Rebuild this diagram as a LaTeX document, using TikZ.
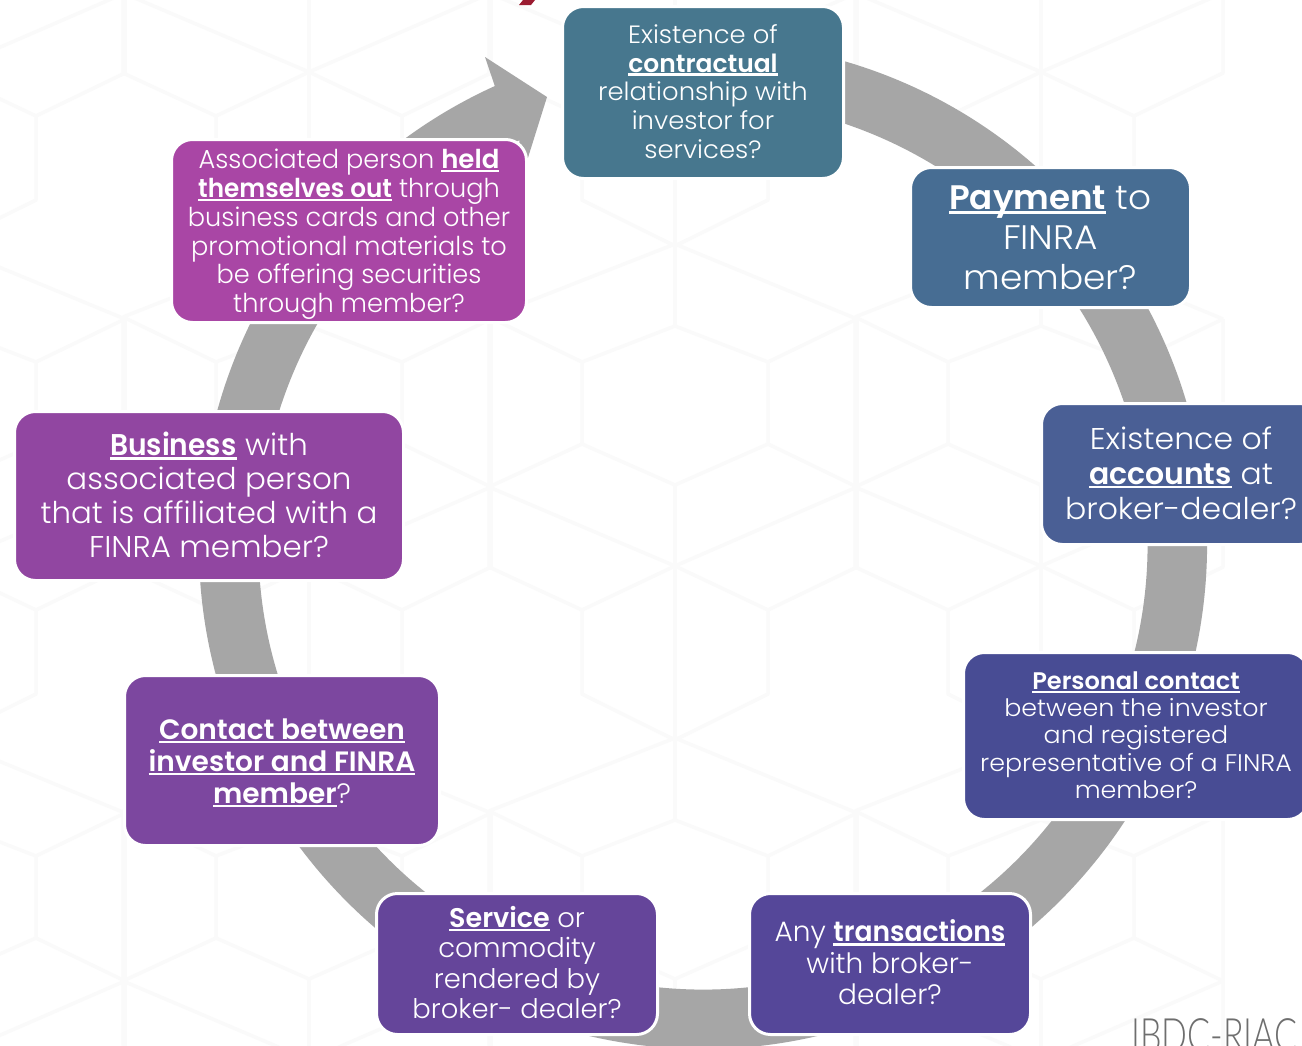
\documentclass[tikz,border=0pt]{standalone}
\usepackage{fontspec}
\usepackage{graphicx}
\setmainfont{Poppins Light}[BoldFont={Poppins SemiBold}]
\newfontfamily\logofont{Lato Light}
\usetikzlibrary{calc}
\definecolor{ringgray}{HTML}{A6A6A6}
\definecolor{hexline}{HTML}{FAFAFA}
\definecolor{titlered}{HTML}{9B1C31}
\definecolor{logogray}{HTML}{6E6E6E}
\definecolor{cA}{HTML}{47778E}
\definecolor{cB}{HTML}{476D93}
\definecolor{cC}{HTML}{4A5F95}
\definecolor{cD}{HTML}{484C94}
\definecolor{cE}{HTML}{554799}
\definecolor{cF}{HTML}{65459A}
\definecolor{cG}{HTML}{7C479F}
\definecolor{cH}{HTML}{9146A1}
\definecolor{cI}{HTML}{A946A5}
\newcommand\ub[2][1]{\setbox0\hbox{\scalebox{#1}[1]{\bfseries #2}}\leavevmode\rlap{\rule[-0.14em]{\wd0}{0.085em}}\box0\relax}
\newcommand\lns[3]{\raisebox{-#2pt}[\height][\depth]{\scalebox{#1}[1]{\begin{tabular}{@{}c@{}}#3\end{tabular}}}}
\tikzset{
  card/.style={draw=white,line width=3pt,rounded corners=21pt,inner sep=0pt,outer sep=0pt,text=white,align=center},
  hexstroke/.style={draw=hexline,line width=3.5pt,line join=round},
}
\newcommand\fs[2]{\fontsize{#1}{#2}\selectfont}
\begin{document}
\begin{tikzpicture}[x=1pt,y=-1pt]
\useasboundingbox (0,0) rectangle (1302,1045);
\clip (0,0) rectangle (1302,1045);
\fill[white] (0,0) rectangle (1302,1045);
% faint hexagon background
\foreach \i in {-2,-1,0,1} \foreach \j in {-1,0,1}{
 \begin{scope}[shift={(\i*366,\j*494)}]
  \draw[hexstroke] (489,317)--(675,244)--(857,319);
  \draw[hexstroke] (489,317)--(582,362)--(675,326)--(768,362)--(857,319);
  \draw[hexstroke] (582,362)--(582,444)--(675,485)--(768,444)--(768,362);
  \draw[hexstroke] (582,444)--(489,487)--(489,317);
  \draw[hexstroke] (768,444)--(857,487)--(857,319);
  \draw[hexstroke] (489,487)--(675,566)--(857,487);
  \draw[hexstroke] (675,485)--(675,566);
  \draw[hexstroke] (489,487)--(489,567)--(582,610)--(675,566)--(768,610)--(857,567)--(857,487);
  \draw[hexstroke] (582,610)--(582,694)--(675,740)--(768,694)--(768,610);
  \draw[hexstroke] (675,566)--(675,740);
  \draw[hexstroke] (675,244)--(675,326);
 \end{scope}}
% red fragment of the cut-off title
\fill[titlered] (523,0)--(535,0)--(531,5)--(519,5)--cycle;
% ring arrow
\coordinate (ringc) at (703,545);
\coordinate (headback) at (485,57);
\coordinate (headtip) at (547,97);
\coordinate (headlow) at (521,180);
\fill[ringgray] ($(ringc)+(-80:504)$) arc[start angle=-80,end angle=245.6,radius=504]
  -- (headback) -- (headtip) -- (headlow) -- ($(ringc)+(245.6:444.5)$)
  arc[start angle=245.6,end angle=-80,radius=444.5] -- cycle;
% cards
\node[card,fill=cA,minimum width=281pt,minimum height=172pt,font=\fs{25}{28.7}] (n1) at (703,92.5)
 {\lns{1.035}{2.5}{Existence of\\\ub[.965]{contractual}\\relationship with\\investor for\\services?}};
\node[card,fill=cB,minimum width=280pt,minimum height=140pt,font=\fs{34}{40}] (n2) at (1050.5,237.5)
 {\lns{1.055}{4}{\ub[.95]{Payment} to\\FINRA\\member?}};
\node[card,fill=cC,minimum width=279pt,minimum height=141pt,font=\fs{30}{35}] (n3) at (1181,474)
 {\lns{1.05}{3}{Existence of\\\ub[.95]{accounts} at\\broker-dealer?}};
\node[card,fill=cD,minimum width=345pt,minimum height=167pt,font=\fs{24}{27.2}] (n4) at (1136,736)
 {\lns{1.055}{2.5}{\ub[.95]{Personal contact}\\between the investor\\and registered\\representative of a FINRA\\member?}};
\node[card,fill=cE,minimum width=281pt,minimum height=141pt,font=\fs{28}{31.5}] (n5) at (890,964)
 {\lns{1}{3}{Any \ub[.95]{transactions}\\with broker-\\dealer?}};
\node[card,fill=cF,minimum width=281pt,minimum height=141pt,font=\fs{27}{30.3}] (n6) at (517,964)
 {\lns{1.015}{3}{\ub[.985]{Service} or\\commodity\\rendered by\\broker- dealer?}};
\node[card,fill=cG,minimum width=315pt,minimum height=170pt,font=\fs{28}{32}] (n7) at (282,760.5)
 {\lns{1}{4.5}{\ub{Contact between}\\\ub{investor and FINRA}\\\ub{member}?}};
\node[card,fill=cH,minimum width=389pt,minimum height=169pt,font=\fs{30}{34}] (n8) at (209,496)
 {\lns{1.03}{4}{\ub[.91]{Business} with\\associated person\\that is affiliated with a\\FINRA member?}};
\node[card,fill=cI,minimum width=355pt,minimum height=183pt,font=\fs{26}{28.8}] (n9) at (349,231)
 {\lns{.985}{4}{Associated person \ub[1.015]{held}\\\ub[.965]{themselves out} through\\business cards and other\\promotional materials to\\be offering securities\\through member?}};
% logo text cut by the page edge
\node[anchor=north west,inner sep=0pt,text=logogray,font=\logofont\fontsize{46}{46}\selectfont] (logo) at (1131,1018) {\scalebox{.74}[1]{IBDC-RIAC}};
\end{tikzpicture}
\end{document}
